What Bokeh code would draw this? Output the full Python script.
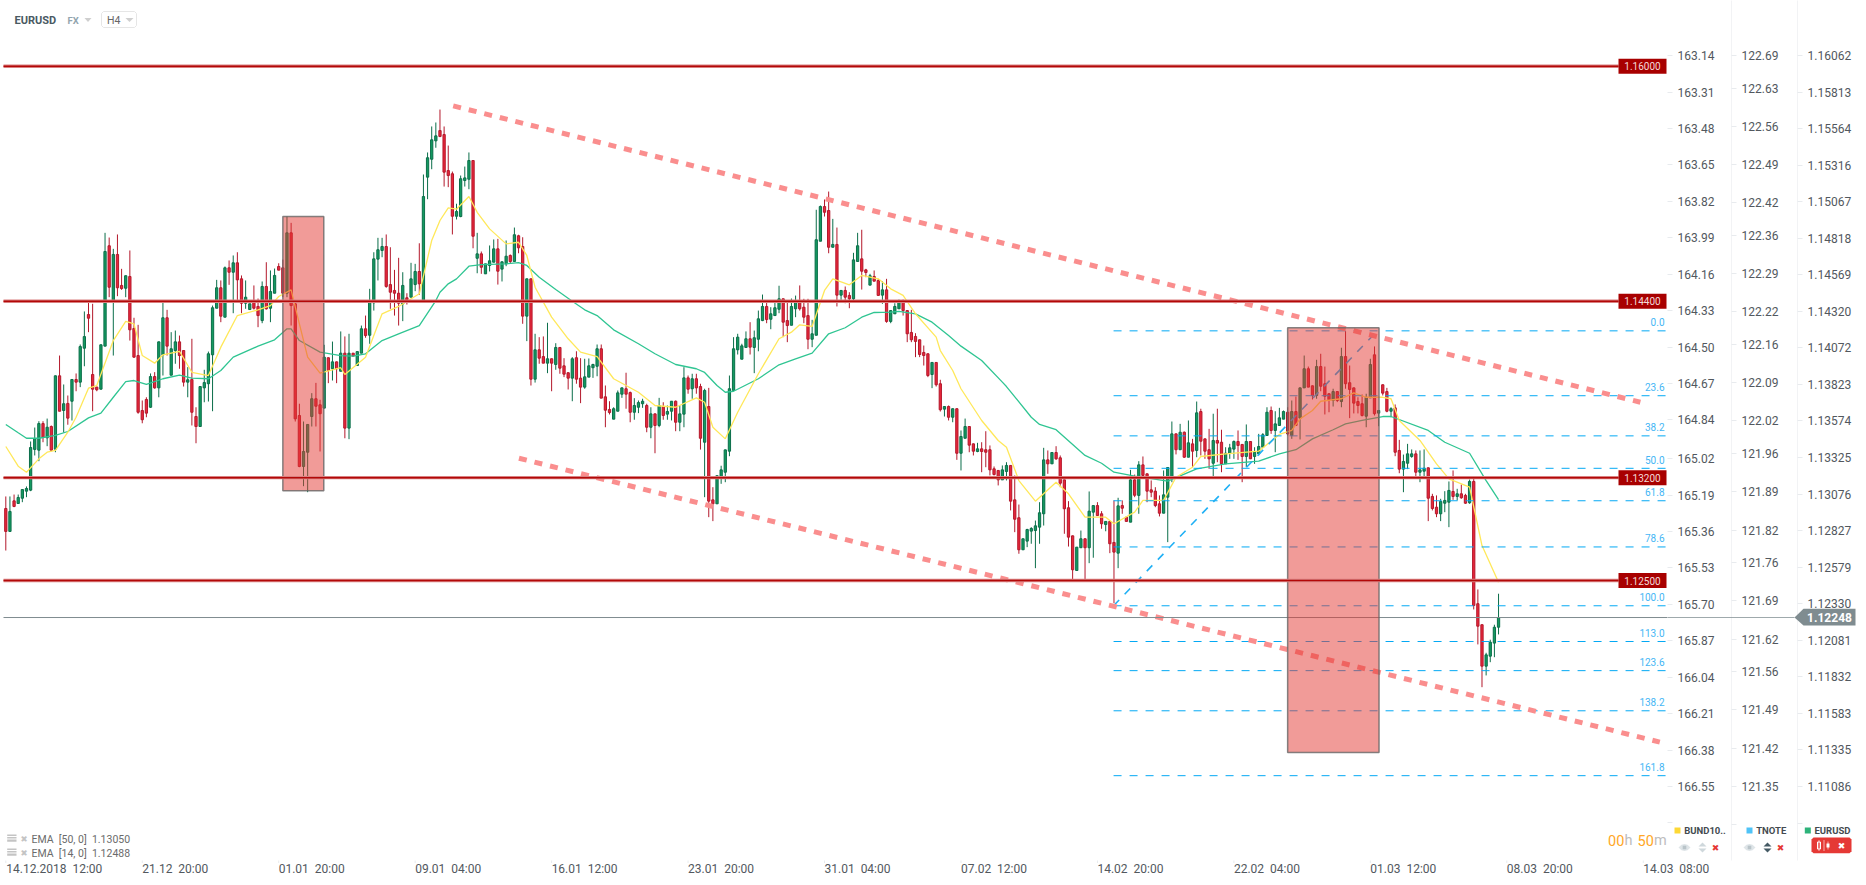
from bokeh.plotting import figure
from bokeh.embed import file_html
from bokeh.resources import INLINE
from bokeh.models import Range1d, LinearAxis, FixedTicker, NumeralTickFormatter, ColumnDataSource
from bokeh.core.properties import value
import numpy as np

# ------------------------------------------------------------------ data
# prices are stored as points (1e-5) above 1.10000
directions = ("rgrggggggr" "grgrgrgrgg" "rrrggrgrrg" "rrrrrgrggr" "ggrrgrrggg" "ggrgrgrrgg" "rrgrggrrgr" "rrgggrrgrg"
              "rgrgrggrgg" "ggrrrrgrgg" "rggggrrrrg" "gggrgrgggr" "ggrgrrgrgr" "rgrgrrrgrr" "ggggrrrggg" "rrgggrgrgr"
              "ggrggrgrrg" "rrgggggggg" "rgggrgggrr" "ggrrrgggrr" "grgrrggrrg" "rrgrgggrrr" "rrrrgrrgrg" "rggrrgrrrr"
              "rggrrrgggg" "ggrgrrrrrg" "grggrrgrrg" "rrgrgrrrrr" "gggrgrgrgr" "rrgrrgggrr" "grggggrggg" "rgrggrrgrr"
              "rgrgrrrrrg" "grgrrgrrgg" "grggrrrggg" "rgrrgrrrgg" "gg")
body_top = [
2990,2970,3042,3065,3119,3126,3405,3466,3568,3568,
3543,3548,3893,3893,3703,3705,3868,3868,4092,4160,
4310,3902,3816,4104,4739,4778,4719,4719,4508,4574,
4569,4215,4031,3657,3732,3888,3888,4124,4288,4288,
4077,4124,4124,4065,3866,3868,3616,3820,3847,4043,
4356,4492,4492,4628,4628,4662,4662,4553,4428,4383,
4401,4365,4501,4501,4467,4576,4637,4628,4866,4866,
4383,3623,3378,3562,3737,3737,3696,4020,4016,3988,
3988,4047,4047,4047,4047,4058,4213,4213,4394,4689,
4751,4773,4773,4514,4474,4455,4508,4424,4553,4603,
4603,5113,5377,5499,5526,5562,5535,5290,5268,5011,
5234,5240,5358,5358,4723,4723,4655,4676,4757,4757,
4669,4707,4712,4853,4846,4773,4553,4553,4070,4070,
4024,4009,4009,4086,4086,3961,3914,4009,4016,3877,
3886,3961,3970,4077,4077,3750,3664,3669,3777,3811,
3805,3779,3691,3711,3720,3691,3634,3634,3691,3684,
3650,3720,3720,3634,3879,3879,3873,3873,3820,3793,
3684,3049,3213,3253,3389,3805,4077,4156,4097,4145,
4145,4152,4281,4365,4365,4315,4356,4417,4417,4269,
4365,4405,4405,4360,4303,4179,4819,5045,5045,5018,
4787,4787,4474,4474,4440,4682,4778,4689,4614,4574,
4569,4542,4478,4478,4337,4365,4401,4401,4337,4188,
4161,4138,4052,4043,3984,3984,3839,3684,3684,3669,
3669,3480,3548,3548,3430,3396,3396,3390,3390,3260,
3249,3253,3283,3283,3049,2927,2784,2847,2854,2872,
2961,3321,3321,3371,3371,3335,3185,2995,2804,2727,
2784,2784,2972,3010,3010,2954,2902,2902,2759,3008,
3010,2931,3185,3185,3287,3287,3226,3117,3108,3022,
3083,3269,3498,3498,3509,3509,3437,3430,3641,3650,
3464,3390,3453,3453,3441,3366,3403,3446,3446,3426,
3446,3446,3373,3412,3492,3645,3657,3566,3607,3650,
3645,3650,3650,3811,3941,3941,3825,3956,3956,3839,
3771,3786,3786,4024,4024,3846,3811,3718,3703,3747,
3970,4036,3657,3832,3786,3669,3675,3385,3310,3362,
3362,3362,3253,3264,3267,3072,2999,3038,3045,3113,
3106,3090,3090,3079,3174,3174,2342,2199,1994,2080,
2182,2248]
body_bottom = [
2834,2834,3004,3024,3060,3108,3115,3392,3387,3475,
3471,3387,3394,3652,3657,3605,3720,3850,3850,4081,
4285,3802,3798,3802,4095,4496,4405,4492,4487,4489,
4206,4020,3645,3594,3639,3679,3811,3811,4036,4095,
3897,4065,4031,3850,3850,3645,3548,3548,3811,3839,
4036,4353,4299,4292,4598,4598,4546,4387,4387,4344,
4353,4303,4269,4349,4353,4455,4612,4455,4455,4371,
3600,3276,3276,3373,3616,3686,3635,3673,3929,3941,
3941,3924,3537,3537,4027,3963,4047,4167,4169,4390,
4687,4746,4501,4462,4455,4387,4383,4401,4428,4514,
4519,4394,5245,5367,5492,5522,5279,5256,4979,4979,
4977,5222,5231,4843,4693,4632,4587,4644,4666,4605,
4619,4655,4671,4671,4764,4299,4299,3870,3870,4013,
3979,3979,3979,3970,3945,3904,3877,3877,3870,3816,
3816,3884,3948,3958,3741,3659,3643,3598,3652,3768,
3768,3645,3645,3679,3703,3543,3543,3555,3555,3623,
3632,3652,3577,3577,3632,3802,3805,3811,3468,3441,
3040,3022,3022,3199,3237,3380,3793,4070,4006,4086,
4088,4086,4142,4269,4276,4278,4303,4346,4258,4235,
4237,4349,4349,4292,4142,4142,4169,4809,5006,4768,
4768,4442,4442,4428,4417,4417,4671,4605,4596,4510,
4537,4440,4442,4263,4263,4315,4349,4337,4179,4138,
4127,4038,4031,3895,3902,3832,3662,3666,3611,3611,
3366,3366,3468,3421,3380,3378,3378,3373,3253,3221,
3185,3185,3242,3040,2917,2709,2709,2768,2836,2840,
2863,2954,3294,3294,3328,3162,2988,2795,2573,2568,
2723,2723,2723,2965,2942,2886,2881,2750,2693,2686,
2992,2902,2897,3080,3079,3215,3108,3101,3010,2958,
2958,3067,3199,3390,3390,3339,3339,3380,3385,3448,
3380,3328,3298,3435,3294,3294,3366,3394,3419,3344,
3344,3328,3344,3362,3407,3487,3521,3521,3555,3598,
3498,3487,3555,3605,3811,3816,3759,3759,3822,3754,
3730,3725,3725,3718,3839,3800,3707,3691,3623,3618,
3743,3635,3639,3775,3652,3652,3373,3258,3258,3298,
3344,3237,3237,3244,3060,2990,2954,2954,3026,3033,
3072,3072,3063,3026,3029,2330,2189,1917,1917,1985,
2074,2182]
wick_high = [
3072,3072,3085,3085,3119,3140,3446,3541,3584,3584,
3602,3555,3895,4031,3834,3759,3868,3909,4106,4331,
4406,4383,3820,4106,4866,4834,4757,4855,4621,4576,
4746,4288,4240,3725,3747,3909,3918,4126,4394,4342,
4190,4201,4167,4065,3952,4145,3679,3820,3934,4058,
4371,4546,4542,4637,4678,4712,4734,4576,4542,4383,
4508,4419,4535,4666,4610,4623,4659,4684,4977,4934,
4394,3703,3582,3562,3775,3845,3730,4104,4018,4126,
3990,4195,4161,4179,4047,4058,4235,4303,4485,4734,
4832,4832,4855,4768,4614,4696,4598,4455,4662,4655,
4795,5263,5413,5590,5617,5705,5590,5460,5283,5064,
5256,5317,5413,5358,4866,4739,4655,4780,4821,4825,
4671,4814,4719,4902,4853,4836,4555,4555,4179,4156,
4161,4254,4011,4115,4086,4013,3916,4020,4060,4013,
4009,4011,3975,4106,4106,3827,3720,3679,3793,3813,
3914,3786,3741,3725,3737,3703,3679,3637,3743,3713,
3691,3720,3725,3691,3952,3895,3907,3907,3839,3805,
3811,3135,3213,3281,3391,3895,4156,4179,4111,4195,
4258,4201,4337,4446,4406,4360,4406,4506,4419,4406,
4419,4439,4508,4417,4417,4274,5023,5052,5093,5147,
4961,4902,4474,4501,4462,4730,4866,4887,4621,4587,
4610,4553,4537,4553,4337,4387,4412,4412,4337,4342,
4183,4140,4099,4045,3984,3984,3866,3684,3691,3671,
3671,3521,3602,3548,3432,3437,3441,3516,3419,3276,
3249,3283,3305,3283,3215,3017,2784,2852,2863,2908,
3033,3403,3385,3371,3414,3351,3187,3040,2806,2727,
2840,2786,3106,3010,3033,2972,2902,2902,3045,3063,
3045,2931,3253,3221,3312,3344,3228,3181,3135,3079,
3249,3269,3582,3500,3566,3514,3589,3464,3718,3669,
3466,3532,3635,3669,3526,3407,3430,3453,3521,3426,
3562,3446,3407,3498,3503,3679,3684,3652,3675,3657,
3679,3725,3752,3813,4031,3956,3827,4002,4043,3956,
3773,3805,3786,4084,4197,3963,3813,3747,3766,3771,
4009,4093,3657,3834,3811,3679,3698,3457,3357,3430,
3392,3385,3385,3392,3269,3090,3079,3056,3108,3174,
3249,3124,3153,3090,3187,3203,2439,2201,2008,2097,
2199,2410]
wick_low = [
2704,2834,2999,3024,3033,3067,3108,3351,3312,3441,
3414,3380,3373,3652,3507,3560,3589,3788,3816,3958,
4190,3652,3788,3800,4095,4428,4031,4435,4478,4428,
4133,4016,3635,3570,3611,3675,3805,3747,3895,4031,
3897,3975,3941,3820,3747,3555,3434,3548,3713,3718,
3652,4353,4258,4292,4512,4319,4405,4319,4349,4344,
4344,4224,4251,4344,4258,4455,4612,4428,4428,4235,
3582,3271,3142,3101,3548,3548,3378,3673,3843,3861,
3843,3924,3468,3462,4027,3963,4047,4152,4111,4337,
4542,4700,4492,4349,4303,4235,4265,4378,4428,4469,
4444,4394,5095,5299,5445,5517,5181,5177,4855,4957,
4972,5181,5163,4761,4591,4587,4587,4603,4666,4514,
4535,4639,4655,4671,4727,4247,4129,3827,3847,3975,
3979,3911,3788,3934,3907,3884,3800,3720,3839,3707,
3805,3884,3879,3890,3741,3543,3630,3598,3652,3743,
3669,3577,3594,3639,3675,3509,3468,3366,3543,3594,
3594,3589,3516,3516,3543,3771,3737,3771,3391,3067,
2931,2904,3022,3158,3169,3346,3793,4038,4006,4086,
4038,3911,4060,4265,4251,4210,4303,4319,4156,4122,
4237,4292,4337,4251,4074,4088,4169,4809,4977,4727,
4768,4365,4410,4387,4353,4405,4671,4480,4564,4510,
4537,4440,4383,4254,4251,4315,4349,4303,4122,4122,
4020,4020,3963,3884,3809,3820,3650,3616,3589,3577,
3321,3249,3468,3373,3351,3373,3237,3271,3215,3215,
3147,3185,3181,2977,2829,2682,2709,2727,2750,2584,
2750,2874,3226,3294,3321,3135,2818,2731,2505,2568,
2723,2505,2618,2655,2942,2852,2835,2686,2346,2584,
2954,2902,2897,3067,2954,3215,3033,3067,2999,2936,
2958,2761,3169,3358,3390,3335,3339,3271,3339,3351,
3328,3260,3208,3305,3237,3294,3328,3328,3321,3169,
3271,3328,3294,3351,3407,3487,3498,3373,3555,3598,
3487,3464,3555,3460,3811,3816,3732,3737,3788,3630,
3645,3684,3714,3679,3805,3605,3637,3637,3616,3543,
3743,3623,3550,3759,3645,3611,3346,3230,3101,3258,
3335,3208,3169,3199,2904,2977,2931,2904,2965,2863,
3049,3045,3056,3022,3022,2303,2065,1774,1854,1944,
1978,2133]

ema50_bar = [0,3,5,8,12,15,20,23,26,29,
31,34,38,42,45,49,52,55,61,65,
68,69,71,76,81,84,87,91,95,100,
104,105,107,109,112,115,121,124,126,129,
133,137,140,143,147,153,157,162,167,169,
172,174,176,182,187,191,195,199,203,207,
210,214,216,220,224,228,231,236,241,242,
248,250,254,261,265,268,273,281,288,295,
303,308,312,316,321,324,328,333,335,344,
348,354,358,361]
ema50_val = [3562,3505,3468,3468,3487,3514,3607,3639,3747,3854,
3861,3834,3873,3897,3877,3873,3929,4020,4095,4138,
4213,4213,4133,4054,4031,4027,4043,4133,4179,4235,
4405,4462,4519,4553,4639,4650,4655,4664,4644,4564,
4480,4401,4342,4303,4206,4111,4043,3970,3941,3916,
3827,3781,3788,3873,3968,4009,4047,4179,4220,4292,
4324,4326,4331,4315,4258,4167,4095,3997,3850,3820,
3611,3562,3526,3351,3298,3237,3210,3176,3260,3294,
3312,3362,3390,3464,3526,3566,3589,3616,3616,3521,
3441,3366,3180,3050]
ema14_bar = [0,3,5,8,10,12,15,17,20,22,
26,29,31,33,36,38,42,45,49,52,
56,61,64,66,69,71,73,76,81,82,
87,91,95,100,103,105,107,109,112,114,
117,121,124,126,128,132,136,139,143,147,
153,157,162,167,169,171,174,177,182,187,
190,192,195,198,200,204,207,211,214,217,
220,225,226,229,231,236,240,242,245,249,
254,257,261,266,268,273,275,280,283,287,
289,295,303,308,311,313,316,318,323,326,
329,333,335,337,342,346,349,354,357,361]
ema14_val = [3412,3278,3237,3328,3373,3385,3509,3611,3809,3827,
4133,4263,4247,4031,3979,4036,4060,3917,3895,4088,
4303,4342,4371,4433,4478,4247,4020,3911,3948,3902,
4020,4315,4365,4451,4814,4950,5036,5027,5113,5006,
4893,4791,4802,4712,4496,4292,4145,4054,4024,3873,
3781,3691,3679,3743,3713,3543,3464,3645,3907,4145,
4190,4240,4229,4474,4553,4512,4576,4553,4485,4440,
4315,4156,4065,3929,3805,3589,3453,3407,3180,3040,
3169,3090,2931,2931,2886,2965,3045,3045,3203,3271,
3344,3362,3380,3494,3521,3600,3657,3720,3737,3777,
3747,3747,3737,3589,3453,3294,3192,3135,2738,2488]

time_labels = ["14.12.2018\u00a0\u00a012:00", "21.12\u00a0\u00a020:00", "01.01\u00a0\u00a020:00", "09.01\u00a0\u00a004:00",
               "16.01\u00a0\u00a012:00", "23.01\u00a0\u00a020:00", "31.01\u00a0\u00a004:00", "07.02\u00a0\u00a012:00",
               "14.02\u00a0\u00a020:00", "22.02\u00a0\u00a004:00", "01.03\u00a0\u00a012:00", "08.03\u00a0\u00a020:00",
               "14.03\u00a0\u00a008:00"]
bars_per_label = 33

bund_ticks = [163.14,163.31,163.48,163.65,163.82,163.99,164.16,164.33,164.50,164.67,164.84,
              165.02,165.19,165.36,165.53,165.70,165.87,166.04,166.21,166.38,166.55]
tnote_ticks = [122.69,122.63,122.56,122.49,122.42,122.36,122.29,122.22,122.16,122.09,122.02,
               121.96,121.89,121.82,121.76,121.69,121.62,121.56,121.49,121.42,121.35]
eur_ticks = [1.16062,1.15813,1.15564,1.15316,1.15067,1.14818,1.14569,1.14320,1.14072,1.13823,1.13574,
             1.13325,1.13076,1.12827,1.12579,1.12330,1.12081,1.11832,1.11583,1.11335,1.11086]

levels = [1.16000, 1.14400, 1.13200, 1.12500]
last_price = 1.12248
fib_pct = [0.0, 23.6, 38.2, 50.0, 61.8, 78.6, 100.0, 113.0, 123.6, 138.2, 161.8]
fib_high, fib_low = 1.14199, 1.12328
fib_start_bar, fib_diag_end_bar = 267.9, 331.7
upper_trend_bar, upper_trend_price = [108.2, 395.3], [1.15730, 1.13713]
lower_trend_bar, lower_trend_price = [124.1, 400.0], [1.13332, 1.11400]
zone_bar_left = [67.0, 310.0]
zone_bar_right = [76.9, 332.1]
zone_top = [1.14977, 1.14220]
zone_bottom = [1.13110, 1.11330]

# ------------------------------------------------------------------ layout (pixels of the page)
W, H = 1866, 885
FRAME_R, FRAME_B = 1667, 860
BAR0, BAR_W = 5.3, 4.135
PX_PER_PRICE, Y125 = 14694.0, 580.0
def X(px): return (px - BAR0) / BAR_W
def Y(py): return 1.125 + (Y125 - py) / PX_PER_PRICE
def P(pts): return 1.1 + np.asarray(pts, dtype=float) * 1e-5

p = figure(width=W, height=H, x_range=Range1d(X(0), X(FRAME_R)), y_range=Range1d(Y(FRAME_B), Y(0)),
           output_backend="svg", toolbar_location=None, y_axis_location=None,
           min_border=0, min_border_right=W - FRAME_R, min_border_bottom=H - FRAME_B,
           outline_line_color=None, background_fill_color="white", border_fill_color="white")
p.grid.visible = False
p.styles = {"position": "absolute", "left": "0px", "top": "0px"}

FONT = "Roboto"
AXIS_COL = "#52585e"
# the labels start at their tick, so the centred axis labels sit half a label further right;
# the last label lies past the plot frame and is written on the chrome sheet below
label_half_bars = [48.5 / BAR_W] + [33.0 / BAR_W] * (len(time_labels) - 2)
label_pos = [i * bars_per_label + h for i, h in enumerate(label_half_bars)]
xa = p.xaxis[0]
xa.ticker = FixedTicker(ticks=label_pos)
xa.major_label_overrides = {t: s for t, s in zip(label_pos, time_labels)}
xa.major_label_text_font = FONT
xa.major_label_text_font_size = "12px"
xa.major_label_text_color = AXIS_COL
xa.major_label_standoff = 1
xa.major_tick_in = 0
xa.major_tick_out = 0
xa.major_tick_line_color = None
xa.minor_tick_line_color = None
xa.axis_line_color = None

def price_axis(name, ticks, extra, fmt, start, end, line, pad):
    p.extra_y_ranges[name] = Range1d(start, end)
    a = LinearAxis(y_range_name=name, ticker=FixedTicker(ticks=ticks, minor_ticks=[extra]),
                   formatter=NumeralTickFormatter(format=fmt))
    a.major_label_text_font = FONT
    a.major_label_text_font_size = "12px"
    a.major_label_text_color = AXIS_COL
    a.major_label_standoff = 5
    a.major_tick_in = 0
    a.major_tick_out = 5
    a.minor_tick_in = 0
    a.minor_tick_out = 5
    a.major_tick_line_color = "#e8ebee"
    a.minor_tick_line_color = "#e8ebee"
    a.axis_line_color = line
    a.axis_label = " "
    a.axis_label_text_font_size = "1px"
    a.axis_label_standoff = pad
    p.add_layout(a, "right")

price_axis("bund", bund_ticks, 166.72, "0.00", 166.895, 162.883, None, 10)
price_axis("tnote", tnote_ticks, 121.28, "0.00", 121.214, 122.791, "#f2f3f5", 12)
price_axis("eur", eur_ticks, 1.10837, "0.00000", 1.10582, 1.16436, "#f2f3f5", 5)

# ------------------------------------------------------------------ candles
GREEN_FILL, GREEN_EDGE, RED_FILL, RED_EDGE = "#149a60", "#0b6e4a", "#e8273b", "#b3182b"
bars = np.arange(len(body_top))
src = ColumnDataSource(dict(
    x=bars, top=P(body_top), bottom=P(body_bottom), hi=P(wick_high), lo=P(wick_low),
    fill=[GREEN_FILL if d == "g" else RED_FILL for d in directions],
    edge=[GREEN_EDGE if d == "g" else RED_EDGE for d in directions]))
p.segment("x", "hi", "x", "lo", source=src, line_color="edge", line_width=1)
p.vbar("x", 0.55, "top", "bottom", source=src, fill_color="fill", line_color="edge", line_width=1)

# EMAs
p.line(ema50_bar, P(ema50_val), line_color="#2fc592", line_width=1.3)
p.line(ema14_bar, P(ema14_val), line_color="#ffe85a", line_width=1.3)

# Fibonacci
FIB_COL = "#04a9f4"
fib_prices = [fib_high - (fib_high - fib_low) * q / 100 for q in fib_pct]
FIB_END = X(1666)
for q, fp in zip(fib_pct, fib_prices):
    p.line([fib_start_bar, FIB_END], [fp, fp], line_color=FIB_COL, line_width=1, line_dash="8 8")
p.text([X(1664)] * len(fib_pct), [fp + 8.6 / PX_PER_PRICE for fp in fib_prices],
       text=[f"{q:.1f}" for q in fib_pct], text_align="right", text_baseline="middle",
       text_font=value(FONT), text_font_size="10px", text_color="#45b6f5")
p.line([fib_start_bar, fib_diag_end_bar], [fib_low, fib_high], line_color="#1fb0f5", line_width=1.6, line_dash="8 8")

# Trend channel
for bx, by in ((upper_trend_bar, upper_trend_price), (lower_trend_bar, lower_trend_price)):
    p.line(bx, by, line_color="#fa8e8e", line_width=5, line_dash="8 8", line_cap="butt")

# Price line
p.line([X(3), X(FRAME_R)], [last_price, last_price], line_color="#7f8c90", line_width=1)

# Red zones
p.quad(left=zone_bar_left, right=zone_bar_right, top=zone_top, bottom=zone_bottom,
       fill_color="#e33832", fill_alpha=0.5, line_color="#666666", line_alpha=0.8, line_width=1.5)

# Horizontal levels with tags
TAG_L, TAG_R = X(1618), X(1666)
for lv in levels:
    p.line([X(3), TAG_L], [lv, lv], line_color="#d98080", line_width=3.4)
    p.line([X(3), TAG_L], [lv, lv], line_color="#b30808", line_width=1.5)
p.quad(left=[TAG_L] * 4, right=[TAG_R] * 4, top=[lv + 7.5 / PX_PER_PRICE for lv in levels],
       bottom=[lv - 7.5 / PX_PER_PRICE for lv in levels], fill_color="#a80000", line_color=None)
p.text([(TAG_L + TAG_R) / 2] * 4, levels, text=[f"{lv:.5f}" for lv in levels], text_align="center",
       text_baseline="middle", text_font=value(FONT), text_font_size="10px", text_color="#f3dada")

# ------------------------------------------------------------------ chrome: transparent sheet in page pixels
ui = figure(width=W, height=H, x_range=Range1d(0, W), y_range=Range1d(H, 0),
            output_backend="svg", toolbar_location=None, x_axis_location=None, y_axis_location=None,
            min_border=0, outline_line_color=None, background_fill_color=None, border_fill_color=None)
ui.grid.visible = False
ui.styles = {"position": "absolute", "left": "0px", "top": "0px", "pointer-events": "none"}

def lab(x, y, text, size=10, color="#666666", bold=False, align="left", font=FONT):
    ui.text([x], [y], text=[text], text_font=value(font), text_font_size=f"{size}px", text_color=color,
            text_font_style="bold" if bold else "normal", text_align=align, text_baseline="middle")

def poly(xs, ys, fill, line=None, lw=1):
    ui.patch(list(xs), list(ys), fill_color=fill, fill_alpha=1 if fill else 0,
             line_color=line, line_width=lw, line_alpha=1 if line else 0)

def rect(x0, y0, x1, y1, fill, line=None):
    poly([x0, x1, x1, x0], [y0, y0, y1, y1], fill, line)

# time axis tick marks and the last time label, which lies past the plot frame
ui.segment([BAR0 + i * bars_per_label * BAR_W for i in range(len(time_labels))], [860] * len(time_labels),
           [BAR0 + i * bars_per_label * BAR_W for i in range(len(time_labels))], [862.5] * len(time_labels),
           line_color="#e8ebee", line_width=1)
lab(BAR0 + (len(time_labels) - 1) * bars_per_label * BAR_W, 868, time_labels[-1], 12, AXIS_COL)

# current price tag
rect(FRAME_R, 616.4, 1794, 617.3, "#7f8c90")
poly([1794, 1803, 1855, 1855, 1803], [617, 608.3, 608.3, 625, 625], "#7f8c90")
lab(1829, 617, f"{last_price:.5f}", 12, "#ffffff", True, "center")

# header
lab(14, 19.5, "EURUSD", 11, "#4a5a63", True)
lab(67, 19.5, "FX", 9.5, "#93a5ae", True)
poly([84, 91, 87.5], [17.5, 17.5, 21.5], "#cfcfcf")
poly([103, 134, 136, 136, 134, 103, 101, 101], [11, 11, 13, 25, 27, 27, 25, 13], None, "#e6e6e6")
lab(106.5, 19.5, "H4", 10.5, "#666666")
poly([125, 133, 129], [17.5, 17.5, 21.5], "#cfcfcf")

# EMA legend
for ty, txt in ((838.7, "EMA\u00a0\u00a0[50, 0]\u00a0\u00a01.13050"), (852.7, "EMA\u00a0\u00a0[14, 0]\u00a0\u00a01.12488")):
    rect(6.7, ty - 4.7, 16, ty - 3.2, "#c4c4c4")
    rect(6.7, ty - 2.2, 16, ty - 0.7, "#c4c4c4")
    rect(6.7, ty + 0.3, 16, ty + 2.6, "#c4c4c4")
    lab(23.5, ty, "\u2716", 8.5, "#c4c4c4", False, "center", "DejaVu Sans")
    lab(31, ty, txt, 10.5, "#6b6b6b")

# countdown
lab(1607.5, 839.5, "00", 14.5, "#ffa726")
lab(1624, 839.5, "h", 14.5, "#bdbdbd")
lab(1637, 839.5, "50", 14.5, "#ffa726")
lab(1653.5, 839.5, "m", 14.5, "#bdbdbd")

# instrument legend
for sq, col, tx, name in ((1674, "#fdd835", 1683.7, "BUND10.."), (1746, "#4fc3f7", 1755.7, "TNOTE"), (1804.3, "#2db37a", 1814, "EURUSD")):
    rect(sq, 827, sq + 6, 833, col)
    lab(tx, 830, name, 9.5, "#444b50", True)

def eye(cx, cy):
    poly([cx - 6, cx - 3, cx, cx + 3, cx + 6, cx + 3, cx, cx - 3], [cy, cy - 2.8, cy - 3.6, cy - 2.8, cy, cy + 2.8, cy + 3.6, cy + 2.8], "#dfe5e8")
    poly([cx - 1.8, cx + 1.8, cx + 1.8, cx - 1.8], [cy - 1.8, cy - 1.8, cy + 1.8, cy + 1.8], "#b9c4c9")

def arrows(cx, cy, col):
    poly([cx - 4, cx + 4, cx], [cy - 1, cy - 1, cy - 5], col)
    poly([cx - 4, cx + 4, cx], [cy + 1, cy + 1, cy + 5], col)

eye(1684, 847)
arrows(1702, 847, "#cfd8dc")
lab(1715, 847, "\u2716", 9, "#e53935", False, "center", "DejaVu Sans")
eye(1749, 847)
arrows(1767, 847, "#455a64")
lab(1780, 847, "\u2716", 9, "#e53935", False, "center", "DejaVu Sans")
poly([1813, 1849, 1851, 1851, 1849, 1813, 1811, 1811], [837, 837, 839, 850.7, 852.7, 852.7, 850.7, 839], "#e53935")
rect(1817, 841.5, 1820, 848.5, None, "#ffffff")
rect(1818.2, 839.5, 1818.8, 850.5, "#ffffff")
rect(1823.2, 839.5, 1823.8, 850.5, "#ffffff")
rect(1826, 843, 1829, 847, "#ffffff")
rect(1827.2, 841, 1827.8, 849, "#ffffff")
lab(1841, 845, "\u2716", 9, "#ffffff", False, "center", "DejaVu Sans")

open("out.html", "w").write(file_html([p, ui], INLINE))
